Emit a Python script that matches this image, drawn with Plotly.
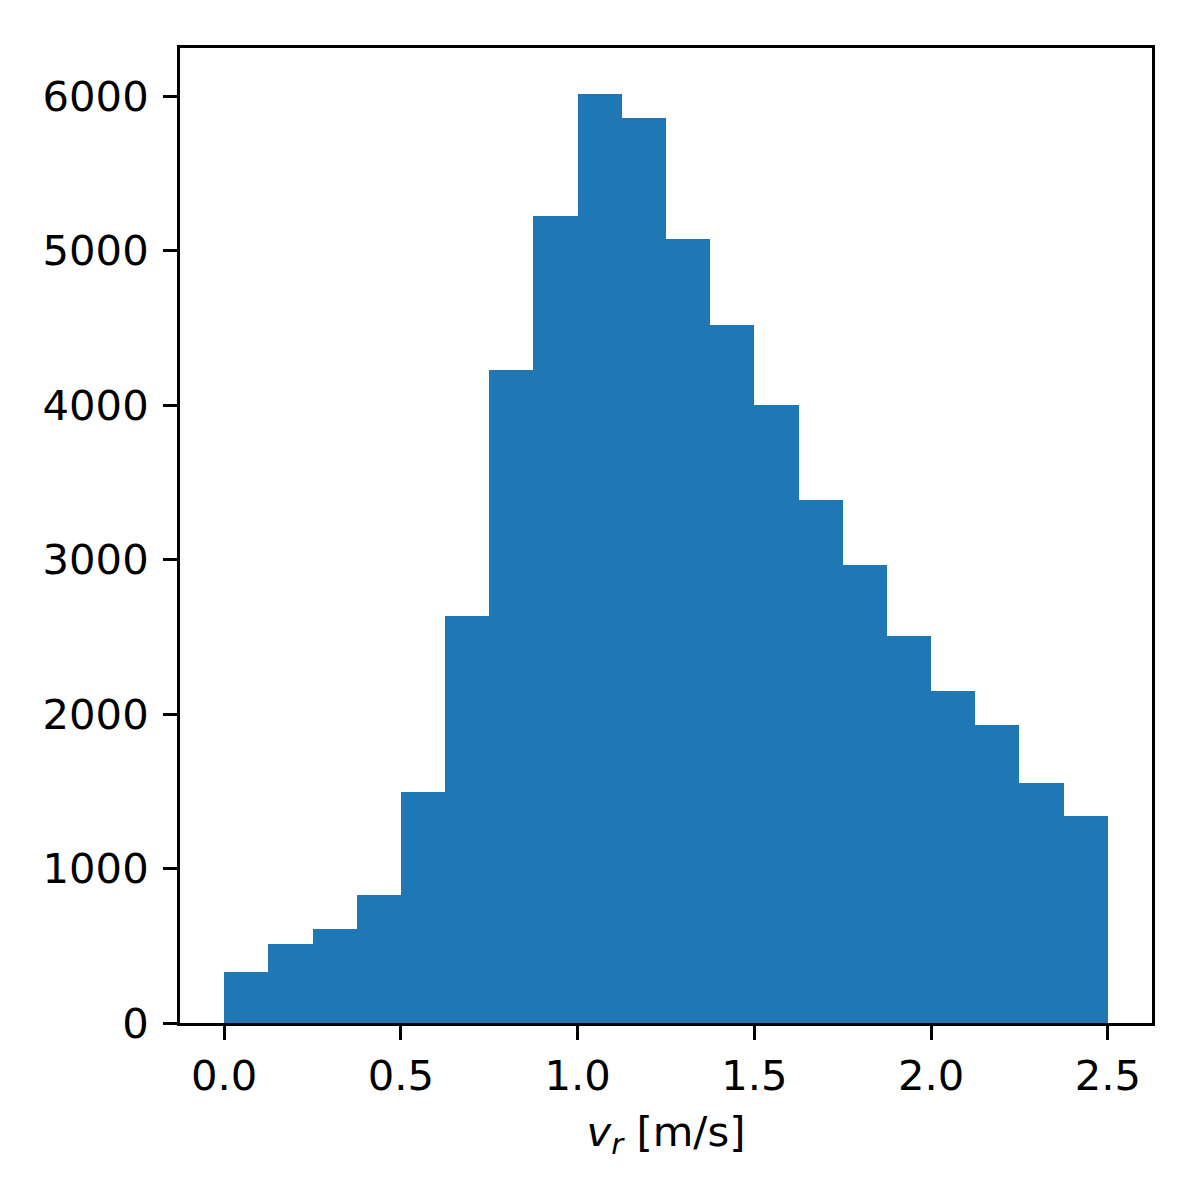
import plotly.graph_objects as go

# Histogram data: 20 bins of width 0.125 from 0 to 2.5
bin_edges = [0.0, 0.125, 0.25, 0.375, 0.5, 0.625, 0.75, 0.875, 1.0, 1.125, 1.25,
             1.375, 1.5, 1.625, 1.75, 1.875, 2.0, 2.125, 2.25, 2.375, 2.5]
counts = [330, 512, 609, 829, 1497, 2637, 4231, 5223, 6013, 5858,
          5080, 4523, 4004, 3389, 2968, 2508, 2151, 1931, 1555, 1341]
x_ticks = [0.0, 0.5, 1.0, 1.5, 2.0, 2.5]
x_tick_labels = ["0.0", "0.5", "1.0", "1.5", "2.0", "2.5"]
y_ticks = [0, 1000, 2000, 3000, 4000, 5000, 6000]
y_tick_labels = ["0", "1000", "2000", "3000", "4000", "5000", "6000"]

centers = [(a + b) / 2 for a, b in zip(bin_edges[:-1], bin_edges[1:])]
widths = [b - a for a, b in zip(bin_edges[:-1], bin_edges[1:])]

fig = go.Figure(go.Bar(
    x=centers, y=counts, width=widths,
    marker=dict(color="#1f77b4", line=dict(width=0)),
    hoverinfo="x+y",
))

span = bin_edges[-1] - bin_edges[0]
ymax = max(counts)
font = dict(family="DejaVu Sans", size=41.7, color="black")

fig.update_layout(
    width=1200, height=1200,
    margin=dict(l=172, r=56, t=40, b=185),
    paper_bgcolor="white", plot_bgcolor="white",
    bargap=0, showlegend=False,
    font=font,
)
fig.update_xaxes(
    range=[bin_edges[0] - 0.05 * span, bin_edges[-1] + 0.05 * span],
    tickmode="array", tickvals=x_ticks, ticktext=x_tick_labels,
    showline=True, mirror=True, linecolor="black", linewidth=3,
    ticks="outside", ticklen=14, tickwidth=3, tickcolor="black",
    showgrid=False, zeroline=False,
    ticklabelstandoff=0,
    title=dict(text="<i>v</i><sub><i>r</i></sub> [m/s]", font=font, standoff=18),
)
fig.update_yaxes(
    range=[0, ymax * 1.05],
    tickmode="array", tickvals=y_ticks, ticktext=y_tick_labels,
    showline=True, mirror=True, linecolor="black", linewidth=3,
    ticks="outside", ticklen=14, tickwidth=3, tickcolor="black",
    showgrid=False, zeroline=False,
    ticklabelstandoff=6,
)

fig.write_html("out.html")
